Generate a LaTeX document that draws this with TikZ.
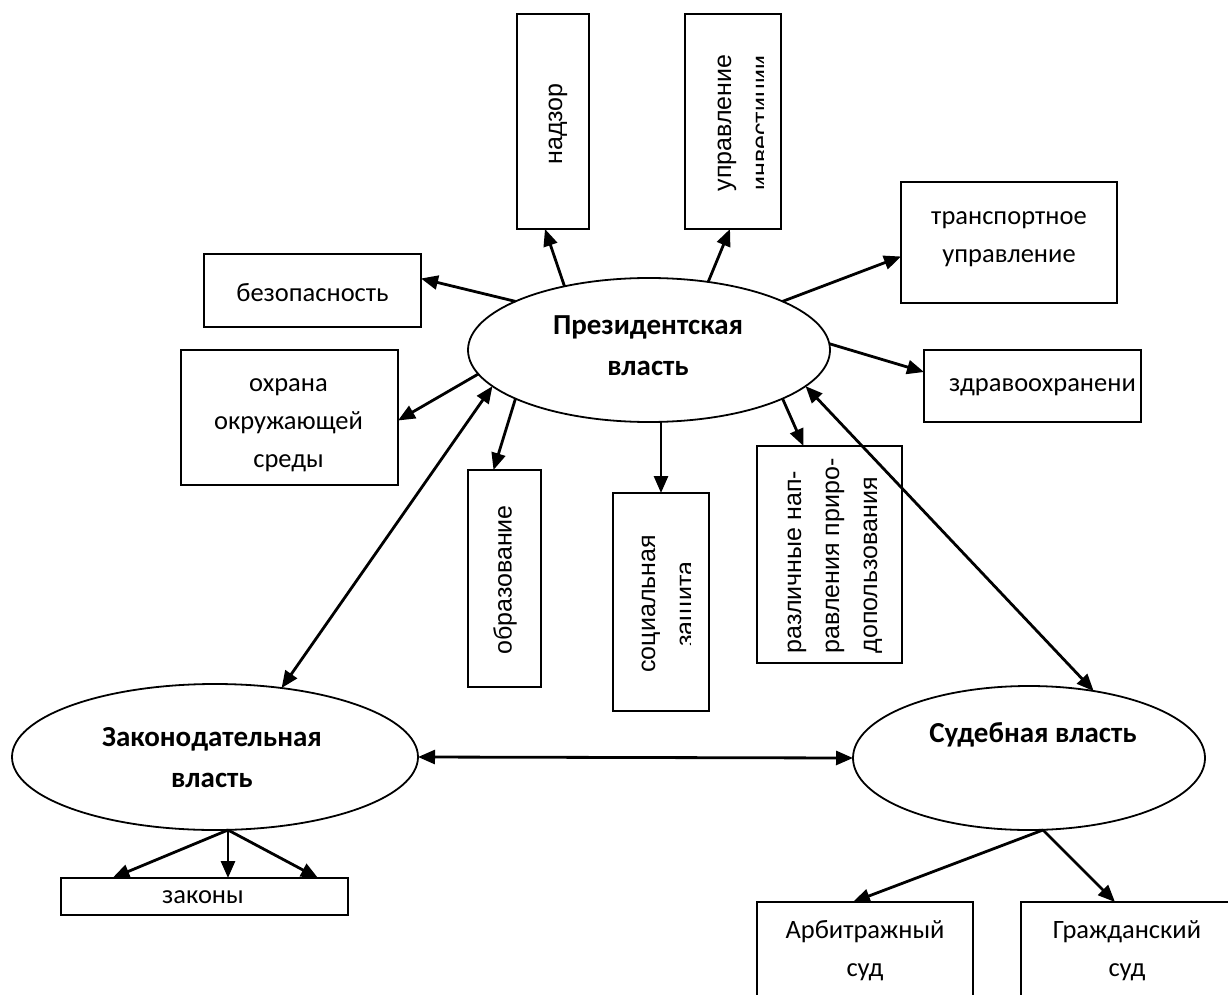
\documentclass[tikz,border=0pt]{standalone}
\usepackage{fontspec}
\setmainfont{Carlito}
\newfontfamily\arialf{Liberation Sans}
\usetikzlibrary{shapes.geometric,arrows.meta}
\tikzset{
  box/.style={draw, line width=2pt, inner sep=0pt, outer sep=0pt},
  ell/.style={draw, ellipse, line width=1.8pt, inner sep=0pt, outer sep=0pt},
  arr/.style={line width=2.8pt, -{Triangle[length=17pt,width=14pt]}},
  darr/.style={line width=2.8pt, {Triangle[length=17pt,width=14pt]}-{Triangle[length=17pt,width=14pt]}},
  txt/.style={font=\fontsize{26.5}{38}\selectfont, align=center, inner sep=0pt},
  btxt/.style={font=\bfseries\fontsize{29}{41}\selectfont, align=center, inner sep=0pt},
  rtxt/.style={font=\arialf\fontsize{25}{38}\selectfont, align=center, rotate=90, inner sep=0pt}
}
\begin{document}
\begin{tikzpicture}[x=1pt,y=-1pt]
\useasboundingbox (0,0) rectangle (1228,995);
\clip (0,0) rectangle (1228,995);
\fill[white] (0,0) rectangle (1228,995);

% ellipses
\node[ell, minimum width=362pt, minimum height=144pt] (pres) at (649,350) {};
\node[btxt] (presT) at (648,346) {Президентская\\власть};
\node[ell, minimum width=406pt, minimum height=146pt] (zak) at (215,757) {};
\node[btxt] (zakT) at (212,757.5) {Законодательная\\власть};
\node[ell, minimum width=352pt, minimum height=144pt] (sud) at (1029,758) {};
\node[btxt] (sudT) at (1033,735) {Судебная власть};

% boxes
\node[box, minimum width=72pt, minimum height=215pt] (nadzor) at (553,121.5) {};
\node[rtxt] (nadzorT) at (558,124) {надзор};
\node[box, minimum width=96pt, minimum height=215pt] (upr) at (733,121.5) {};
\begin{scope}
\clip (685,14) rectangle (763,229);
\node[rtxt] (uprT) at (746,123) {управление\\инвестиции};
\end{scope}
\node[box, minimum width=216pt, minimum height=121pt] (trans) at (1009,242.5) {};
\node[txt] (transT) at (1009,239) {транспортное\\управление};
\node[box, minimum width=217pt, minimum height=72pt] (zdrav) at (1032.5,386) {};
\node[txt] (zdravT) at (1042.5,387) {здравоохранени};
\node[box, minimum width=217pt, minimum height=73pt] (bezop) at (312.5,290.5) {};
\node[txt] (bezopT) at (312.5,293) {безопасность};
\node[box, minimum width=217pt, minimum height=135pt] (ohrana) at (289.5,417.5) {};
\node[txt] (ohranaT) at (288.5,425) {охрана\\окружающей\\среды};
\node[box, minimum width=73pt, minimum height=217pt] (obraz) at (504.5,578.5) {};
\node[rtxt] (obrazT) at (505,580) {образование};
\node[box, minimum width=96pt, minimum height=218pt] (social) at (661,602) {};
\begin{scope}
\clip (613,493) rectangle (690,711);
\node[rtxt] (socialT) at (670,604) {социальная\\защита};
\end{scope}
\node[box, minimum width=145pt, minimum height=217pt] (razl) at (829.5,554.5) {};
\node[rtxt, align=left] (razlT) at (835,556) {различные нап-\\равления приро-\\допользования};
\node[box, minimum width=287pt, minimum height=37pt] (zakony) at (204.5,896.5) {};
\node[txt] (zakonyT) at (203,897) {законы};
\node[box, minimum width=216pt, minimum height=108pt] (arb) at (865,956) {};
\node[txt] (arbT) at (865,951) {Арбитражный\\суд};
\node[box, minimum width=214pt, minimum height=108pt] (grazh) at (1128,956) {};
\node[txt] (grazhT) at (1127,951) {Гражданский\\суд};

% connectors from presidential power
\draw[arr] (pres.143) -- ([xshift=-8pt]nadzor.south);
\draw[arr] (pres.49) -- ([xshift=-3pt]upr.south);
\draw[arr] (pres.20) -- ([yshift=-14pt]trans.west);
\draw[arr] (pres.2) -- ([yshift=14pt]zdrav.west);
\draw[arr] (pres.160) -- ([yshift=12pt]bezop.east);
\draw[arr] (pres.188) -- ([yshift=-3pt]ohrana.east);
\draw[arr] (pres.200) -- ([xshift=-11pt]obraz.north);
\draw[arr] (social.north |- pres.south) -- (social.north);
\draw[arr] (pres.340) -- ([xshift=-26pt]razl.north);

% between powers
\draw[darr] (pres.193) -- (zak.46);
\draw[darr] (pres.347) -- (sud.46);
\draw[darr] (zak.east) -- (sud.west);

% legislative -> laws
\coordinate (zs) at ([xshift=13pt]zak.south);
\draw[arr] (zs) -- ([xshift=-92pt]zakony.north);
\draw[arr] (zs) -- ([xshift=23.5pt]zakony.north);
\draw[arr] (zs) -- ([xshift=113.5pt]zakony.north);

% judicial -> courts
\coordinate (ss) at ([xshift=14pt]sud.south);
\draw[arr] (ss) -- ([xshift=-12pt]arb.north);
\draw[arr] (ss) -- ([xshift=-13pt]grazh.north);
\end{tikzpicture}
\end{document}
